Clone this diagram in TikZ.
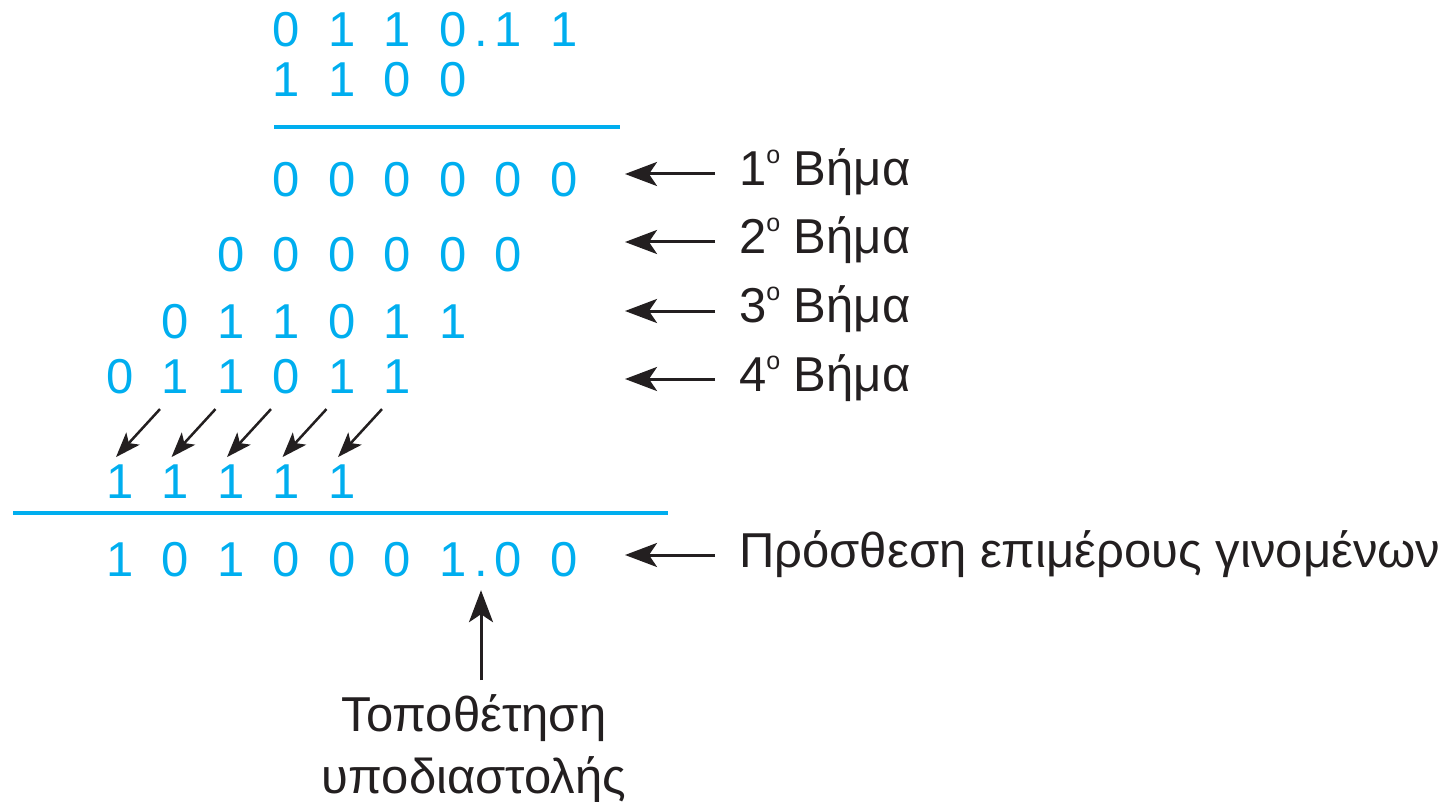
\documentclass[tikz,border=0pt]{standalone}
\usepackage{fontspec}
\setmainfont{Liberation Sans}
\usetikzlibrary{arrows.meta}

\definecolor{bitblue}{RGB}{0,174,239}
\definecolor{inkblack}{RGB}{35,31,32}
\newcommand{\degsup}{\raisebox{22pt}{\fontsize{25}{25}\selectfont o}}

\begin{document}
\begin{tikzpicture}[x=1pt,y=-1pt,
        bit/.style={text=bitblue,font=\fontsize{49}{58}\selectfont,anchor=base,inner sep=0pt},
        steplabel/.style={text=inkblack,font=\fontsize{49}{62}\selectfont,anchor=base west,inner sep=0pt},
        rule/.style={draw=bitblue,line width=3.5pt},
        pointer/.style={draw=inkblack,line width=3pt,-{Stealth[length=32pt,width=24pt,inset=8pt]}},
        carry/.style={draw=inkblack,line width=2.5pt,-{Stealth[length=25pt,width=18pt,inset=6pt]}}]
        \useasboundingbox (0,0) rectangle (1456,802);

        % Multiplicand and multiplier
        \foreach \k/\v in {3/0,4/1,5/1,6/0,7/1,8/1}
            \node[bit] (mcand-\k) at (120+55.5*\k,47) {\v};
        \node[bit] (mdot) at (481,47) {.};
        \foreach \k/\v in {3/1,4/1,5/0,6/0}
            \node[bit] (mplier-\k) at (120+55.5*\k,97) {\v};
        \draw[rule] (274,127) -- (620,127);

        % Partial products
        \foreach \k/\v in {3/0,4/0,5/0,6/0,7/0,8/0}
            \node[bit] (pa-\k) at (120+55.5*\k,197) {\v};
        \foreach \k/\v in {2/0,3/0,4/0,5/0,6/0,7/0}
            \node[bit] (pb-\k) at (120+55.5*\k,272) {\v};
        \foreach \k/\v in {1/0,2/1,3/1,4/0,5/1,6/1}
            \node[bit] (pc-\k) at (120+55.5*\k,338) {\v};
        \foreach \k/\v in {0/0,1/1,2/1,3/0,4/1,5/1}
            \node[bit] (pd-\k) at (120+55.5*\k,393) {\v};

        % Carries
        \foreach \k in {0,...,4}{
            \node[bit] (carry-\k) at (120+55.5*\k,498) {1};
            \draw[carry] ([shift={(40,-55)}]carry-\k.north) -- ([shift={(-4,-7)}]carry-\k.north);
        }
        \draw[rule] (13,513) -- (668,513);

        % Sum
        \foreach \k/\v in {0/1,1/0,2/1,3/0,4/0,5/0,6/1,7/0,8/0}
            \node[bit] (sum-\k) at (120+55.5*\k,576) {\v};
        \node[bit] (sdot) at (481,576) {.};

        % Step labels
        \foreach \s/\y in {1/174,2/242,3/311,4/379}{
            \node[steplabel] (step\s) at (739,\y+12) {\s\degsup\ Βήμα};
            \coordinate (steptip\s) at (625,\y);
            \draw[pointer,shorten <=24pt] (step\s.base west |- steptip\s) -- (steptip\s);
        }
        \node[steplabel] (addlabel) at (739,567) {Πρόσθεση επιμέρους γινομένων};
        \coordinate (addtip) at (625,555);
        \draw[pointer,shorten <=24pt] (addlabel.base west |- addtip) -- (addtip);

        % Decimal point
        \node[steplabel,anchor=north,align=center] (place) at (474,694) {Τοποθέτηση\\υποδιαστολής};
        \draw[pointer,shorten <=14pt,shorten >=14pt] (sdot.south |- place.north) -- (sdot.south);

    \end{tikzpicture}
\end{document}
